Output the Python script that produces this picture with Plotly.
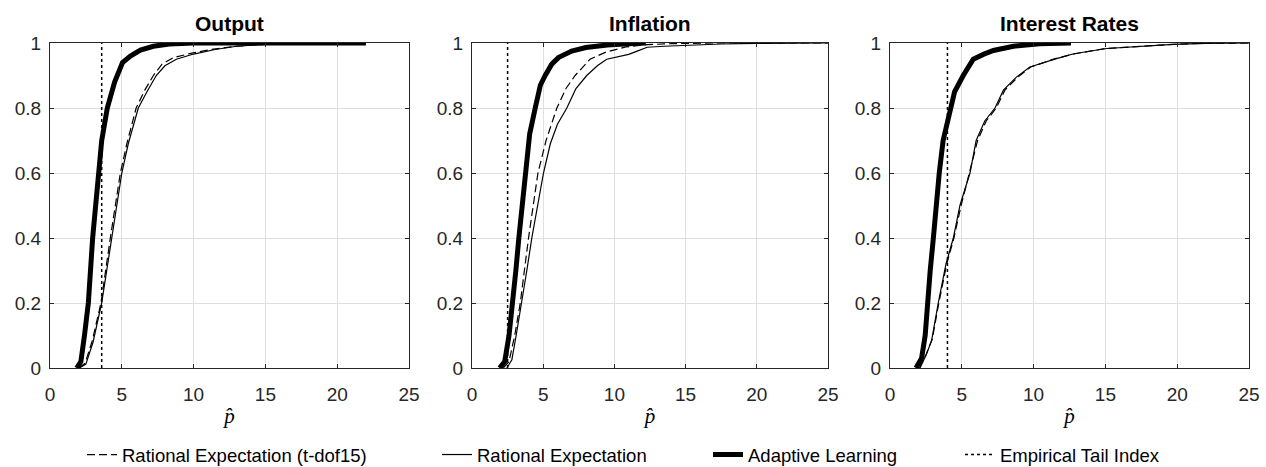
import plotly.graph_objects as go

# ---- data: empirical CDFs of the estimated tail index p-hat ----
panel_titles = ["Output", "Inflation", "Interest Rates"]
x_ticks = [0, 5, 10, 15, 20, 25]
y_ticks = [0, 0.2, 0.4, 0.6, 0.8, 1]
y_tick_labels = ["0", "0.2", "0.4", "0.6", "0.8", "1"]

# Output
out_ret_x = [2.0, 2.45, 2.95, 3.55, 4.2, 4.9, 5.35, 6.0, 6.6, 7.2, 7.8, 8.6, 9.8, 11.2, 13.0, 15.0, 18.0, 22.0]
out_ret_y = [0, 0.015, 0.085, 0.2, 0.4, 0.6, 0.69, 0.8, 0.855, 0.9, 0.935, 0.955, 0.968, 0.98, 0.99, 0.996, 0.999, 1.0]
out_re_x = [2.05, 2.5, 3.0, 3.3, 3.6, 3.95, 4.3, 4.65, 5.0, 5.45, 6.15, 6.75, 7.4, 8.0, 8.8, 10.0, 11.5, 13.0, 15.0, 18.0, 22.0]
out_re_y = [0, 0.012, 0.08, 0.14, 0.2, 0.3, 0.4, 0.5, 0.6, 0.69, 0.8, 0.85, 0.9, 0.93, 0.95, 0.966, 0.98, 0.99, 0.996, 0.999, 1.0]
out_al_x = [1.86, 2.15, 2.4, 2.67, 2.97, 3.36, 3.6, 3.99, 4.5, 5.05, 5.6, 6.3, 7.2, 8.3, 10.0, 22.0]
out_al_y = [0, 0.02, 0.1, 0.2, 0.4, 0.6, 0.7, 0.8, 0.88, 0.94, 0.96, 0.978, 0.99, 0.997, 1.0, 1.0]

# Inflation
inf_ret_x = [2.2, 2.6, 3.0, 3.39, 3.97, 4.3, 4.63, 5.2, 5.96, 6.6, 7.24, 8.29, 9.4, 10.8, 12.3, 14.0, 17.0, 25.0]
inf_ret_y = [0, 0.02, 0.1, 0.2, 0.4, 0.5, 0.6, 0.7, 0.8, 0.86, 0.9, 0.95, 0.972, 0.988, 0.995, 0.998, 1.0, 1.0]
inf_re_x = [2.45, 2.8, 3.1, 3.5, 3.85, 4.2, 4.6, 5.02, 5.5, 6.0, 6.66, 7.3, 8.06, 8.8, 9.46, 10.2, 11.0, 11.6, 12.3, 13.5, 15.0, 17.5, 20.0, 25.0]
inf_re_y = [0, 0.025, 0.1, 0.2, 0.3, 0.4, 0.5, 0.6, 0.69, 0.75, 0.8, 0.86, 0.9, 0.93, 0.95, 0.958, 0.965, 0.975, 0.987, 0.99, 0.993, 0.997, 0.999, 1.0]
inf_al_x = [1.94, 2.3, 2.6, 2.87, 3.08, 3.29, 3.5, 3.74, 4.05, 4.44, 4.8, 5.14, 5.6, 6.07, 7.0, 8.0, 9.5, 11.0, 12.2]
inf_al_y = [0, 0.02, 0.1, 0.2, 0.3, 0.4, 0.5, 0.6, 0.72, 0.8, 0.87, 0.9, 0.935, 0.955, 0.975, 0.986, 0.994, 0.998, 1.0]

# Interest rates
ir_ret_x = [2.05, 2.5, 2.95, 3.4, 3.95, 4.45, 4.95, 5.55, 6.1, 6.7, 7.4, 8.0, 8.9, 9.8, 11.5, 12.9, 15.0, 17.5, 19.8, 22.0, 25.0]
ir_ret_y = [0, 0.04, 0.09, 0.2, 0.32, 0.4, 0.5, 0.6, 0.7, 0.76, 0.8, 0.855, 0.895, 0.926, 0.952, 0.967, 0.983, 0.99, 0.996, 0.999, 1.0]
ir_re_x = [2.09, 2.55, 2.9, 3.36, 3.9, 4.41, 4.87, 5.57, 6.0, 6.6, 7.31, 7.9, 8.8, 9.74, 11.6, 12.8, 15.1, 17.4, 19.7, 22.0, 25.0]
ir_re_y = [0, 0.044, 0.085, 0.2, 0.32, 0.4, 0.5, 0.6, 0.7, 0.76, 0.8, 0.855, 0.895, 0.926, 0.952, 0.967, 0.983, 0.99, 0.996, 0.999, 1.0]
ir_al_x = [1.81, 2.2, 2.45, 2.6, 2.8, 3.02, 3.2, 3.43, 3.7, 4.18, 4.5, 5.1, 5.8, 6.5, 7.2, 8.6, 10.4, 12.6]
ir_al_y = [0, 0.03, 0.1, 0.2, 0.3, 0.4, 0.5, 0.6, 0.7, 0.8, 0.85, 0.9, 0.95, 0.965, 0.977, 0.99, 0.998, 1.0]

# empirical tail index per series
tail_index = [3.6, 2.5, 4.0]

series_names = ["Rational Expectation (t-dof15)", "Rational Expectation",
                "Adaptive Learning", "Empirical Tail Index"]

panels = [
    (out_ret_x, out_ret_y, out_re_x, out_re_y, out_al_x, out_al_y),
    (inf_ret_x, inf_ret_y, inf_re_x, inf_re_y, inf_al_x, inf_al_y),
    (ir_ret_x, ir_ret_y, ir_re_x, ir_re_y, ir_al_x, ir_al_y),
]

# ---- styling ----
W, H = 1266, 467
x_domains = [(50 / W, 409 / W), (472 / W, 828 / W), (890 / W, 1249 / W)]
y_domain = (1 - 368 / H, 1 - 43 / H)
AXIS_COLOR = "#262626"
GRID_COLOR = "#dfdfdf"
FONT = "Liberation Sans, Arial, sans-serif"

line_styles = [
    dict(color="black", width=1.2, dash="8px,4px"),
    dict(color="black", width=1.2),
    dict(color="black", width=5),
    dict(color="black", width=1.5, dash="dot"),
]
legend_ids = ["legend", "legend2", "legend3", "legend4"]

fig = go.Figure()

for i, (rtx, rty, rex, rey, alx, aly) in enumerate(panels):
    xa = "x" if i == 0 else f"x{i + 1}"
    ya = "y" if i == 0 else f"y{i + 1}"
    curves = [(rtx, rty), (rex, rey), (alx, aly),
              ([tail_index[i], tail_index[i]], [0, 1])]
    for k, (cx, cy) in enumerate(curves):
        fig.add_trace(go.Scatter(
            x=cx, y=cy, mode="lines", line=line_styles[k],
            name=series_names[k], xaxis=xa, yaxis=ya,
            showlegend=(i == 0), legend=legend_ids[k],
            hoverinfo="skip",
        ))

axis_common = dict(
    showline=True, linecolor=AXIS_COLOR, linewidth=1, mirror="ticks",
    ticks="inside", ticklen=4, tickcolor=AXIS_COLOR,
    showgrid=True, gridcolor=GRID_COLOR, gridwidth=1, zeroline=False,
    tickfont=dict(family=FONT, size=19, color=AXIS_COLOR),
    automargin=False,
)

layout = dict(
    width=W, height=H,
    margin=dict(l=0, r=0, t=0, b=0, autoexpand=False),
    paper_bgcolor="white", plot_bgcolor="white",
    font=dict(family=FONT, color="black"),
    annotations=[],
)

for i in range(3):
    xkey = "xaxis" if i == 0 else f"xaxis{i + 1}"
    ykey = "yaxis" if i == 0 else f"yaxis{i + 1}"
    xa = "x" if i == 0 else f"x{i + 1}"
    ya = "y" if i == 0 else f"y{i + 1}"
    layout[xkey] = dict(
        axis_common, domain=x_domains[i], range=[0, 25],
        tickvals=x_ticks, anchor=ya, ticklabelstandoff=9,
        title=dict(text="<i>p\u0302</i>", standoff=4,
                   font=dict(family="Liberation Serif, DejaVu Serif, serif", size=21, color="black")),
    )
    layout[ykey] = dict(
        axis_common, domain=y_domain, range=[0, 1],
        tickvals=y_ticks, ticktext=y_tick_labels, anchor=xa, ticklabelstandoff=4,
    )
    layout["annotations"].append(dict(
        text=f"<b>{panel_titles[i]}</b>", xref="paper", yref="paper",
        x=(x_domains[i][0] + x_domains[i][1]) / 2, y=y_domain[1],
        xanchor="center", yanchor="bottom", yshift=6, showarrow=False,
        font=dict(family=FONT, size=21, color="black"),
    ))

# one legend box per entry so each sits where it belongs along the bottom row
legend_x = [82 / W, 437 / W, 708 / W, 960 / W]
for k, lid in enumerate(legend_ids):
    layout[lid] = dict(
        x=legend_x[k], xanchor="left", y=1 - 455 / H, yanchor="middle",
        orientation="h", bgcolor="rgba(0,0,0,0)", borderwidth=0,
        font=dict(family=FONT, size=18.5, color="black"),
        itemwidth=30,
    )

fig.update_layout(**layout)
fig.write_html("out.html")
